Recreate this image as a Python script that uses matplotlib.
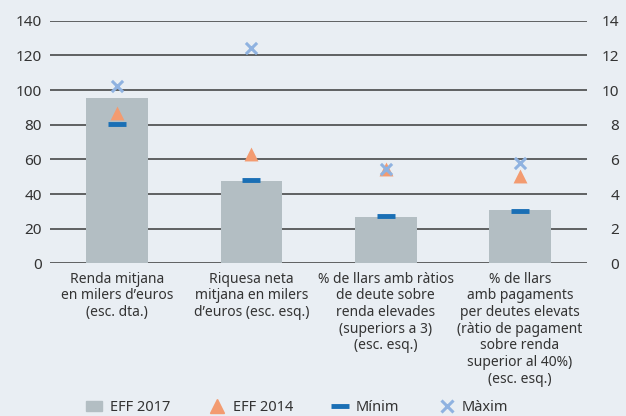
import matplotlib.pyplot as plt
from matplotlib.patches import Patch
from matplotlib.lines import Line2D

#---------DATA----------
categories = [
    "Renda mitjana\nen milers d’euros\n(esc. dta.)",
    "Riquesa neta\nmitjana en milers\nd’euros (esc. esq.)",
    "% de llars amb ràtios\nde deute sobre\nrenda elevades\n(superiors a 3)\n(esc. esq.)",
    "% de llars\namb pagaments\nper deutes elevats\n(ràtio de pagament\nsobre renda\nsuperior al 40%)\n(esc. esq.)",
]
eff_2017 = [95.5, 47.7, 26.7, 30.8]
eff_2014 = [86.8, 63.0, 54.5, 50.2]
minim = [80.5, 48.0, 27.3, 30.2]
maxim = [102.6, 124.2, 54.2, 57.8]
left_ticks = [0, 20, 40, 60, 80, 100, 120, 140]
right_ticks = [0, 2, 4, 6, 8, 10, 12, 14]

#---------STYLE----------
bg = "#e9eef3"
bar_col = "#b3bec3"
tri_col = "#f39b70"
min_col = "#1a6fb5"
max_col = "#8fb2e0"
txt_col = "#333333"
plt.rcParams["font.family"] = ["Noto Sans", "DejaVu Sans"]

fig = plt.figure(figsize=(6.26, 4.16), dpi=100, facecolor=bg)
ax = fig.add_axes([0.0799, 0.367, 0.858, 0.583], facecolor=bg)

x = range(len(categories))
ax.bar(x, eff_2017, width=0.46, color=bar_col, zorder=2)
ax.scatter(x, eff_2014, marker="^", s=100, color=tri_col, zorder=3, linewidths=0)
ax.scatter(x, minim, marker="_", s=150, color=min_col, linewidths=3.5, zorder=4)
ax.scatter(x, maxim, marker="x", s=65, color=max_col, linewidths=2.2, zorder=5)

ax.set_xlim(-0.5, 3.5)
ax.set_ylim(0, 140)
ax.set_yticks(left_ticks)
for t in left_ticks:
    ax.axhline(t, color="#3a3a3a", lw=1.1, zorder=1)
for s in ax.spines.values():
    s.set_visible(False)
ax.set_xticks(list(x))
ax.set_xticklabels(categories, fontsize=10, color=txt_col, linespacing=1.15, va="top")
ax.tick_params(axis="x", length=0, pad=6)
ax.tick_params(axis="y", length=0, pad=6, labelsize=11, labelcolor=txt_col)

ax2 = ax.twinx()
ax2.set_ylim(0, 14)
ax2.set_yticks(right_ticks)
for s in ax2.spines.values():
    s.set_visible(False)
ax2.tick_params(axis="y", length=0, pad=23, labelsize=11, labelcolor=txt_col)
for lbl in ax2.get_yticklabels():
    lbl.set_horizontalalignment("right")

#---------LEGEND----------
handles = [
    Patch(color=bar_col, label="EFF 2017"),
    Line2D([], [], marker="^", ls="", color=tri_col, markersize=10, label="EFF 2014"),
    Line2D([], [], marker="_", ls="", color=min_col, markersize=13, markeredgewidth=3.5, label="Mínim"),
    Line2D([], [], marker="x", ls="", color=max_col, markersize=8, markeredgewidth=2.2, label="Màxim"),
]
fig.legend(handles=handles, loc="lower center", bbox_to_anchor=(0.475, -0.03), ncol=4,
           frameon=False, fontsize=10.5, handlelength=1.1, handletextpad=0.5,
           columnspacing=2.7, labelcolor=txt_col)

fig.savefig("out.png", dpi=100, facecolor=bg)
